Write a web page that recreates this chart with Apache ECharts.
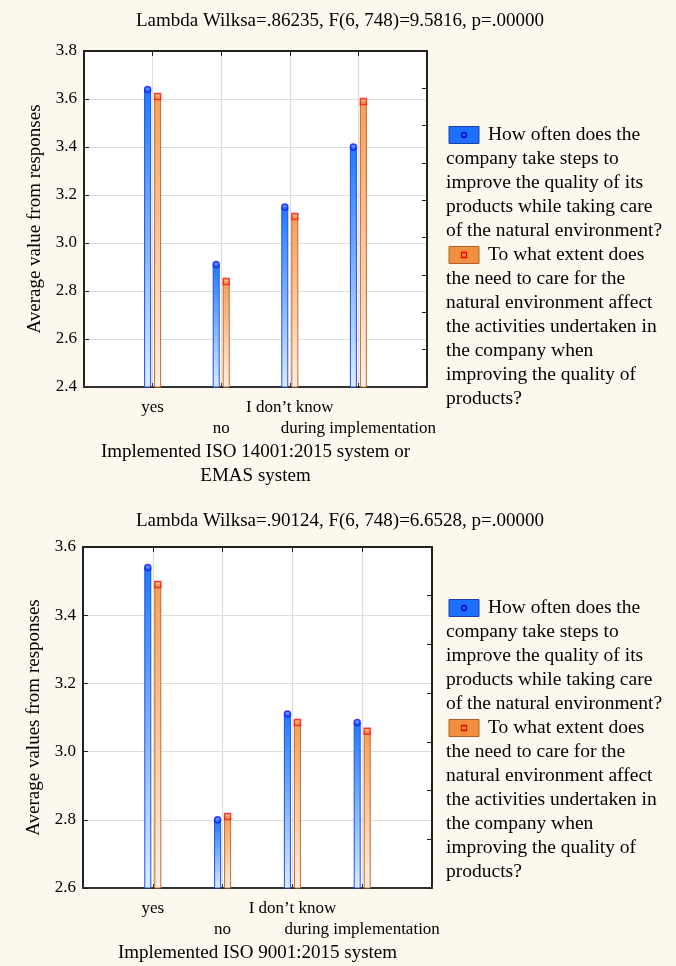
<!DOCTYPE html>
<html><head><meta charset="utf-8">
<script src="https://cdn.jsdelivr.net/npm/echarts@6/dist/echarts.min.js"></script>
<style>html,body{margin:0;padding:0;background:#fdf8ee}#c{width:676px;height:966px}</style>
</head><body><div id="c"></div>
<script>
// ---- data ----
const categories = ['yes', 'no', 'I don\u2019t know', 'during implementation'];
const iso14001Often  = [3.64, 2.91, 3.15, 3.40];
const iso14001Extent = [3.61, 2.84, 3.11, 3.59];
const iso9001Often   = [3.54, 2.80, 3.11, 3.085];
const iso9001Extent  = [3.49, 2.81, 3.085, 3.06];
const title1 = 'Lambda Wilksa=.86235, F(6, 748)=9.5816, p=.00000';
const title2 = 'Lambda Wilksa=.90124, F(6, 748)=6.6528, p=.00000';
const yName1 = 'Average value from responses';
const yName2 = 'Average values from responses';
const xName1 = 'Implemented ISO 14001:2015 system or\nEMAS system';
const xName2 = 'Implemented ISO 9001:2015 system';
const legendOftenFirst = 'How often does the';
const legendOftenRest = 'company take steps to\nimprove the quality of its\nproducts while taking care\nof the natural environment?';
const legendExtentFirst = 'To what extent does';
const legendExtentRest = 'the need to care for the\nnatural environment affect\nthe activities undertaken in\nthe company when\nimproving the quality of\nproducts?';

const FONT = '"Liberation Serif","Times New Roman",serif';
const padCats = [''].concat(categories, ['']);
const pad = a => ['-'].concat(a, ['-']);

const blueFill = new echarts.graphic.LinearGradient(0,0,0,1,[{offset:0,color:'#1f7bff'},{offset:1,color:'#dcecff'}]);
const orangeFill = new echarts.graphic.LinearGradient(0,0,0,1,[{offset:0,color:'#f4a05a'},{offset:1,color:'#fdf0e6'}]);

const grids = [
  {left:84, top:51, width:343, height:336},
  {left:83, top:547, width:349, height:341}
];
const xAxis = [], yAxis = [], series = [];
function panel(g, yMin, yMax, rightMax, yName, xName, often, extent){
  const xb = xAxis.length, yb = yAxis.length;
  xAxis.push({
    type:'category', gridIndex:g, data:padCats, boundaryGap:false, position:'bottom',
    axisLine:{lineStyle:{color:'#333', width:2}},
    axisTick:{inside:true, length:4, lineStyle:{color:'#333'}, interval:0},
    splitLine:{show:true, interval:0, lineStyle:{color:'#dedede', width:1.2}},
    axisLabel:{interval:0, margin:10, color:'#000', fontFamily:FONT, fontSize:17, lineHeight:21,
      formatter:(v,i)=> (i===2||i===4) ? '\n'+v : v},
    name:xName, nameLocation:'middle', nameGap:53,
    nameTextStyle:{color:'#000', fontFamily:FONT, fontSize:19, lineHeight:24, verticalAlign:'top'}
  });
  xAxis.push({
    type:'category', gridIndex:g, data:padCats, boundaryGap:false, position:'top',
    axisLine:{lineStyle:{color:'#222', width:2}},
    axisTick:{inside:true, length:5, lineStyle:{color:'#222'}, interval:0},
    axisLabel:{show:false}, splitLine:{show:false}
  });
  yAxis.push({
    type:'value', gridIndex:g, min:yMin, max:yMax, interval:0.2, position:'left',
    axisLine:{show:true, lineStyle:{color:'#222', width:2}},
    axisTick:{show:true, inside:true, length:5, lineStyle:{color:'#222'}},
    splitLine:{show:true, lineStyle:{color:'#dedede', width:1.2}},
    axisLabel:{color:'#000', fontFamily:FONT, fontSize:17, margin:7, formatter:v=>v.toFixed(1)},
    name:yName, nameLocation:'middle', nameGap:37,
    nameTextStyle:{color:'#000', fontFamily:FONT, fontSize:19}
  });
  yAxis.push({
    type:'value', gridIndex:g, min:0, max:rightMax, interval:1, position:'right',
    axisLine:{show:true, lineStyle:{color:'#222', width:2}},
    axisTick:{show:true, inside:true, length:5, lineStyle:{color:'#222'}},
    splitLine:{show:false}, axisLabel:{show:false}
  });
  const common = {type:'bar', xAxisIndex:xb, yAxisIndex:yb, barWidth:7, barGap:'43%', silent:true};
  series.push(Object.assign({}, common, {data:pad(often),
    itemStyle:{color:blueFill, borderColor:'#2050e0', borderWidth:1}}));
  series.push(Object.assign({}, common, {data:pad(extent),
    itemStyle:{color:orangeFill, borderColor:'#c66a2c', borderWidth:1}}));
  series.push({type:'scatter', xAxisIndex:xb, yAxisIndex:yb, data:pad(often), symbol:'circle', symbolSize:6,
    symbolOffset:[-5,0], z:5, silent:true, itemStyle:{color:'#2f80ff', borderColor:'#1010ff', borderWidth:1.5}});
  series.push({type:'scatter', xAxisIndex:xb, yAxisIndex:yb, data:pad(extent), symbol:'rect', symbolSize:6,
    symbolOffset:[5,0], z:5, silent:true, itemStyle:{color:'#f4a05a', borderColor:'#ff1010', borderWidth:1.5}});
}
panel(0, 2.4, 3.8, 9, yName1, xName1, iso14001Often, iso14001Extent);
panel(1, 2.6, 3.6, 7, yName2, xName2, iso9001Often, iso9001Extent);

function txt(x, y, text, extra){
  return {type:'text', x:x, y:y, style:Object.assign({text:text, fill:'#000', font:'19px '+FONT, lineHeight:24}, extra||{})};
}
function legend(y0){
  const els = [];
  const lf = '19.5px ' + FONT;
  els.push({type:'rect', shape:{x:449, y:y0-8.5, width:30, height:17}, style:{fill:'#1f6fff', stroke:'#1a3fb0', lineWidth:1}});
  els.push({type:'circle', shape:{cx:464, cy:y0, r:2.5}, style:{fill:'none', stroke:'#0000cc', lineWidth:1.3}});
  els.push(txt(488, y0, legendOftenFirst, {verticalAlign:'middle', font:lf}));
  els.push(txt(446, y0+12, legendOftenRest, {verticalAlign:'top', font:lf}));
  const y1 = y0 + 24*5;
  els.push({type:'rect', shape:{x:449, y:y1-8.5, width:30, height:17}, style:{fill:'#f0903e', stroke:'#b0602a', lineWidth:1}});
  els.push({type:'rect', shape:{x:461.5, y:y1-2.5, width:5, height:5}, style:{fill:'none', stroke:'#ee0000', lineWidth:1.3}});
  els.push(txt(488, y1, legendExtentFirst, {verticalAlign:'middle', font:lf}));
  els.push(txt(446, y1+12, legendExtentRest, {verticalAlign:'top', font:lf}));
  return els;
}
const graphic = [
  txt(340, 21, title1, {align:'center', verticalAlign:'middle'}),
  txt(340, 521, title2, {align:'center', verticalAlign:'middle'})
].concat(legend(135), legend(608));

const chart = echarts.init(document.getElementById('c'), null, {renderer:'canvas'});
chart.setOption({
  backgroundColor:'#fdf8ee', animation:false,
  grid: grids.map(g => Object.assign({backgroundColor:'#ffffff', show:true, borderWidth:0, containLabel:false}, g)),
  xAxis, yAxis, series, graphic
});
</script></body></html>
